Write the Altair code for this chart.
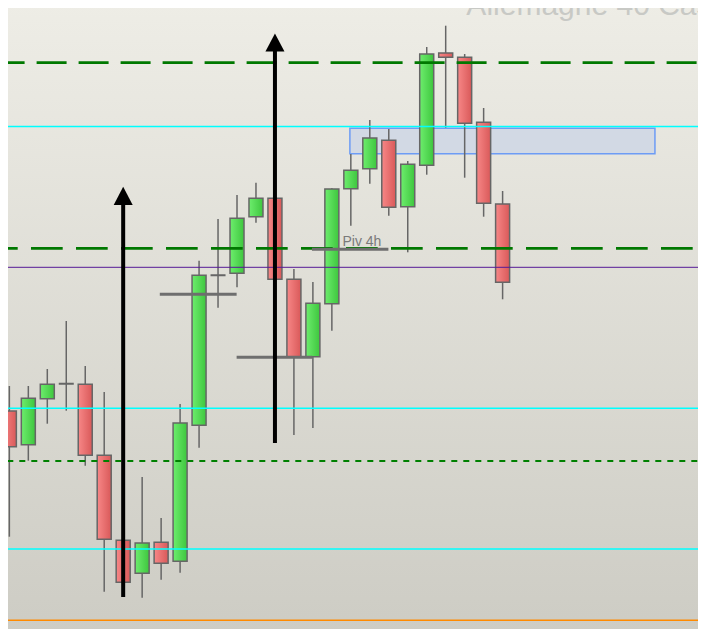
import altair as alt
import pandas as pd

# ---- candle data (hourly DAX candles, index = bar number) ----
IDX = list(range(27))
OPEN = [15589.0, 15555.3, 15601.3, 15616.3, 15615.7, 15544.7, 15459.7, 15426.7, 15457.7,
        15438.7, 15574.7, 15724.7, 15726.7, 15783.3, 15801.7, 15720.7, 15643.3, 15696.3,
        15811.3, 15831.3, 15859.7, 15793.3, 15834.7, 15947.0, 15942.7, 15877.7, 15796.0]
HIGH = [15614.0, 15614.0, 15631.0, 15679.0, 15634.0, 15608.0, 15465.0, 15523.0, 15482.0,
        15596.0, 15739.3, 15781.0, 15805.0, 15817.3, 15802.0, 15731.0, 15718.0, 15811.7,
        15846.0, 15880.0, 15871.0, 15839.0, 15953.0, 15974.3, 15946.0, 15892.0, 15809.0]
LOW = [15463.3, 15539.3, 15576.3, 15589.3, 15534.3, 15408.3, 15410.0, 15402.3, 15420.3,
       15427.3, 15552.3, 15692.3, 15712.7, 15777.3, 15720.0, 15565.0, 15572.0, 15669.3,
       15774.3, 15816.3, 15784.3, 15747.7, 15825.3, 15872.3, 15822.3, 15783.3, 15700.7]
CLOSE = [15553.3, 15601.7, 15615.7, 15616.3, 15544.7, 15460.7, 15417.7, 15457.0, 15436.7,
         15577.0, 15724.7, 15724.7, 15781.7, 15801.7, 15720.7, 15643.3, 15696.7, 15811.0,
         15829.7, 15862.0, 15792.7, 15835.7, 15946.0, 15942.7, 15876.7, 15796.7, 15717.7]

# ---- horizontal levels ----
LONG_DASH_LEVELS = [15937.3]
LONG_DASH_LEVELS_2 = [15751.7]
SHORT_DASH_LEVELS = [15539.0]
CYAN_LEVELS = [15873.6, 15591.7, 15451.0]
PURPLE_LEVELS = [15732.7]
ORANGE_LEVELS = [15379.7]

# ---- pivot segments (start bar, end bar, level) ----
PIV_START = [7.93, 11.98, 15.95]
PIV_END = [11.98, 15.97, 19.98]
PIV_LEVEL = [15705.7, 15642.7, 15750.7]
PIV_LABEL = ["Piv 4h"]
PIV_LABEL_X = [17.56]
PIV_LABEL_Y = [15754.3]

# ---- zone rectangle ----
ZONE_X0 = [17.95]
ZONE_X1 = [34.03]
ZONE_TOP = [15871.7]
ZONE_BOTTOM = [15846.3]

# ---- arrows (bar, start level, tip level) ----
ARROW_X = [6, 14]
ARROW_FROM = [15403.0, 15557.0]
ARROW_TIP = [15813.3, 15966.7]

TITLE = ["Allemagne 40 Cash"]
TITLE_X = [24.09]
TITLE_Y = [15985.0]

X_DOMAIN = [0.1922, 36.036]
Y_DOMAIN = [15371.0, 15992.0]

candles = pd.DataFrame({"i": IDX, "open": OPEN, "high": HIGH, "low": LOW, "close": CLOSE})


def X(field):
    return alt.X(field, type="quantitative", scale=alt.Scale(domain=X_DOMAIN, nice=False, zero=False), axis=None)


def Y(field):
    return alt.Y(field, type="quantitative", scale=alt.Scale(domain=Y_DOMAIN, nice=False, zero=False), axis=None)


def grad_h(c0, c1):
    return alt.LinearGradient(gradient="linear", x1=0, y1=0, x2=1, y2=0,
                              stops=[alt.GradientStop(color=c0, offset=0),
                                     alt.GradientStop(color=c1, offset=1)])


bg = alt.Chart(pd.DataFrame({"a": [0]})).mark_rect(
    fill=alt.LinearGradient(gradient="linear", x1=0, y1=0, x2=0, y2=1,
                            stops=[alt.GradientStop(color="#eeede6", offset=0),
                                   alt.GradientStop(color="#cdccc4", offset=1)])
).encode(x=alt.value(-8), x2=alt.value(698), y=alt.value(-8), y2=alt.value(629))

zone = alt.Chart(pd.DataFrame({"x0": ZONE_X0, "x1": ZONE_X1, "t": ZONE_TOP, "b": ZONE_BOTTOM})).mark_rect(
    fill="#d2d9e4", stroke="#6d9cf5", strokeWidth=1.5
).encode(x=X("x0"), x2="x1", y=Y("t"), y2="b")

base = alt.Chart(candles)
wicks = base.mark_rule(color="#666666", strokeWidth=1.5).encode(x=X("i"), y=Y("low"), y2="high")
up = base.transform_filter("datum.close > datum.open").mark_bar(
    size=14, fill=grad_h("#6ded6d", "#3ec63e"), stroke="#666666", strokeWidth=1.5
).encode(x=X("i"), y=Y("open"), y2="close")
down = base.transform_filter("datum.close < datum.open").mark_bar(
    size=14, fill=grad_h("#f78787", "#d95959"), stroke="#666666", strokeWidth=1.5
).encode(x=X("i"), y=Y("open"), y2="close")
doji = base.transform_filter("datum.close == datum.open").mark_bar(
    size=15, fill="#666666", stroke="#666666", strokeWidth=2
).encode(x=X("i"), y=Y("open"), y2="close")


def hline(levels, **kw):
    return alt.Chart(pd.DataFrame({"lvl": levels})).mark_rule(**kw).encode(
        y=Y("lvl"), x=alt.value(-8), x2=alt.value(698))


l_cyan = hline(CYAN_LEVELS, color="#00ffff", strokeWidth=1.5)
l_purple = hline(PURPLE_LEVELS, color="#561a96", strokeWidth=1)
l_orange = hline(ORANGE_LEVELS, color="#ff8a00", strokeWidth=1.5)
l_dash1 = hline(LONG_DASH_LEVELS, color="#007800", strokeWidth=2.7, strokeDash=[30, 12], strokeDashOffset=5.4)
l_dash2 = hline(LONG_DASH_LEVELS_2, color="#007800", strokeWidth=2.7, strokeDash=[31.7, 13.3], strokeDashOffset=14)
l_dot = hline(SHORT_DASH_LEVELS, color="#008000", strokeWidth=2, strokeDash=[6, 6], strokeDashOffset=4.7)

piv = alt.Chart(pd.DataFrame({"s": PIV_START, "e": PIV_END, "lvl": PIV_LEVEL})).mark_rule(
    color="#6e6e6e", strokeWidth=3
).encode(x=X("s"), x2="e", y=Y("lvl"))

piv_txt = alt.Chart(pd.DataFrame({"x": PIV_LABEL_X, "y": PIV_LABEL_Y, "t": PIV_LABEL})).mark_text(
    align="left", baseline="alphabetic", fontSize=14, font="Liberation Sans", color="#7a7a7a"
).encode(x=X("x"), y=Y("y"), text="t")

arrows_df = pd.DataFrame({"x": ARROW_X, "f": ARROW_FROM, "tip": ARROW_TIP})
arrow_line = alt.Chart(arrows_df).transform_calculate(end="datum.tip - 12").mark_rule(
    color="black", strokeWidth=4
).encode(x=X("x"), y=Y("f"), y2="end")
arrow_head = alt.Chart(arrows_df).transform_calculate(hc="datum.tip - 9.2").mark_point(
    shape="M0,-0.96L-1,0.96L1,0.96Z", filled=True, size=361, color="black", opacity=1
).encode(x=X("x"), y=Y("hc"))

title = alt.Chart(pd.DataFrame({"x": TITLE_X, "y": TITLE_Y, "t": TITLE})).mark_text(
    align="left", baseline="alphabetic", fontSize=30, font="Liberation Sans", color="#c8c9c5"
).encode(x=X("x"), y=Y("y"), text="t")

chart = alt.layer(
    bg, zone, wicks, up, down, doji,
    l_cyan, l_purple, l_orange, l_dash1, l_dash2, l_dot,
    piv, piv_txt, arrow_line, arrow_head, title
).properties(
    width=690, height=621,
    autosize=alt.AutoSizeParams(type="none"),
    padding=0,
).configure_view(stroke=None)

chart.save("out.html", embed_options={"renderer": "svg", "actions": False})
